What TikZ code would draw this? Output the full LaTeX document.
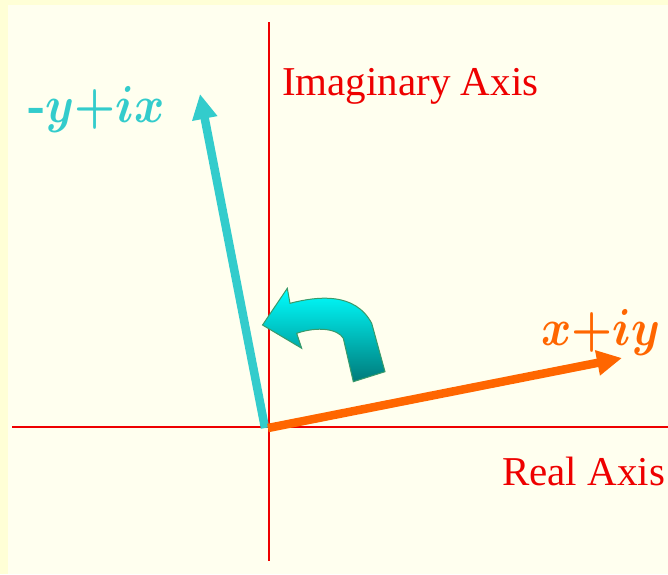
\documentclass[tikz,border=0pt]{standalone}
\usepackage{fontspec}
\usetikzlibrary{arrows.meta}
\newfontfamily\tnr{Liberation Serif}
\definecolor{bgouter}{HTML}{FFFFD6}
\definecolor{bginner}{HTML}{FFFFEF}
\definecolor{axisred}{HTML}{EE0000}
\definecolor{vcyan}{HTML}{33CCCC}
\definecolor{vorange}{HTML}{FF6600}
\definecolor{rotborder}{HTML}{3A9A6A}
\definecolor{rottop}{HTML}{00FFFF}
\definecolor{rotbot}{HTML}{007A7A}
\tikzset{
  axisline/.style={draw=axisred, line width=2.5pt},
  axislabel/.style={text=axisred, inner sep=0pt, anchor=base west, font=\tnr\fontsize{41}{45}\selectfont},
  vec/.style={line width=8.5pt, -{Triangle[length=25pt,width=24pt]}},
  veclabel/.style={inner sep=0pt, anchor=base west},
}
\begin{document}
\begin{tikzpicture}[x=1pt,y=-1pt]
\fill[bgouter] (0,0) rectangle (668,574);
\fill[bginner] (8,5) rectangle (668,574);
\useasboundingbox (0,0) rectangle (668,574);
% axes
\coordinate (vtop) at (269,22);
\coordinate (vbot) at (269,561);
\coordinate (hleft) at (12,427);
\coordinate (hright) at (668,427);
\draw[axisline] (vtop) -- (vbot);
\draw[axisline] (hleft) -- (hright);
% axis labels
\node[axislabel] (imlab) at (282,95) {Imaginary Axis};
\node[axislabel] (relab) at (502,485) {Real Axis};
% vectors
\coordinate (Oc) at (265,428);
\coordinate (Or) at (268,428);
\coordinate (C) at (200,94);
\coordinate (R) at (622,358);
\draw[vec, draw=vcyan, fill=vcyan] (Oc) -- (C);
\draw[vec, draw=vorange, fill=vorange] (Or) -- (R);
% vector labels
\node[veclabel, text=vcyan] (clab) at (28,122) {\scalebox{4.6}[5.2]{\textbf{-}\boldmath$y{+}ix$}};
\node[veclabel, text=vorange] (rlab) at (541,345) {\scalebox{4.6}[5.2]{\boldmath$x{+}iy$}};
% rotation arrow
\path[draw=rotborder, line width=1pt, top color=rottop, bottom color=rotbot]
  (262.5,325) -- (287.3,288.3) -- (290,303.3)
  .. controls (318,296) and (355,292) .. (371.7,323.3)
  -- (385,371.7) -- (353.3,381.7) -- (343.3,338.3)
  .. controls (338,329) and (318,326) .. (296.7,333.3)
  -- (301.7,348.3) -- cycle;
\end{tikzpicture}
\end{document}
